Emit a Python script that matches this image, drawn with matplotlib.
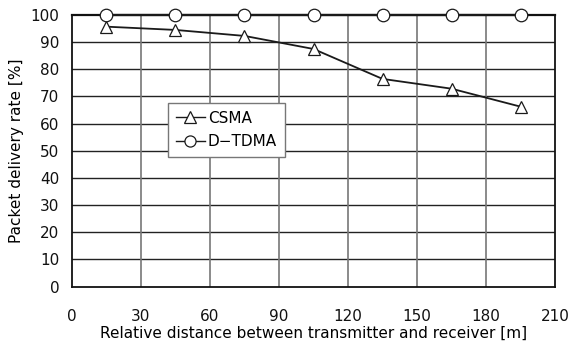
import matplotlib
matplotlib.use("Agg")
import matplotlib.pyplot as plt
from matplotlib.lines import Line2D

plt.rcParams['font.family'] = ['DejaVu Sans']

distance = [15, 45, 75, 105, 135, 165, 195]
csma = [95.6, 94.4, 92.2, 87.4, 76.4, 72.8, 66.2]
dtdma = [100, 100, 100, 100, 100, 100, 100]
x_ticks = [0, 30, 60, 90, 120, 150, 180, 210]
y_ticks = [0, 10, 20, 30, 40, 50, 60, 70, 80, 90, 100]

fig = plt.figure(figsize=(5.70, 3.46), dpi=100)
ax = fig.add_axes([0.1263, 0.1714, 0.8474, 0.7861])

ax.set_xlim(0, 210)
ax.set_ylim(0, 100)
ax.set_xticks(x_ticks)
ax.set_yticks(y_ticks)

for y in y_ticks[1:-1]:
    ax.axhline(y, color='#222222', lw=1.0, zorder=1)
for x in x_ticks[1:-1]:
    ax.axvline(x, color='#777777', lw=1.2, zorder=1)

ax.plot(distance, csma, color='#1a1a1a', lw=1.3, marker='^', ms=8,
        mfc='white', mec='#1a1a1a', mew=0.9, zorder=3, clip_on=False)
ax.plot(distance, dtdma, color='#1a1a1a', lw=1.6, marker='o', ms=9,
        mfc='white', mec='#1a1a1a', mew=0.9, zorder=4, clip_on=False)

for side in ['left', 'bottom', 'top', 'right']:
    ax.spines[side].set_color('#111111')
    ax.spines[side].set_linewidth(1.3)
ax.spines['top'].set_linewidth(1.6)

ax.tick_params(axis='both', length=0, labelsize=11, colors='#111111')
ax.tick_params(axis='x', pad=16)
ax.tick_params(axis='y', pad=9)

ax.set_xlabel('Relative distance between transmitter and receiver [m]',
              fontsize=11, labelpad=1)
ax.set_ylabel('Packet delivery rate [%]', fontsize=11, labelpad=5)

handles = [
    Line2D([], [], color='#1a1a1a', lw=1.0, marker='^', ms=8, mfc='white', mec='#1a1a1a', mew=0.9),
    Line2D([], [], color='#1a1a1a', lw=1.0, marker='o', ms=8, mfc='white', mec='#1a1a1a', mew=0.9),
]
leg = ax.legend(handles, ['CSMA', 'D\u2212TDMA'], loc='upper left',
                bbox_to_anchor=(0.199, 0.675), fontsize=11, frameon=True,
                fancybox=False, edgecolor='#777777', framealpha=1,
                handlelength=1.9, handletextpad=0.2, borderpad=0.5,
                labelspacing=0.55, borderaxespad=0)
leg.get_frame().set_linewidth(1.0)
leg.set_zorder(5)

fig.savefig('out.png', dpi=100)
